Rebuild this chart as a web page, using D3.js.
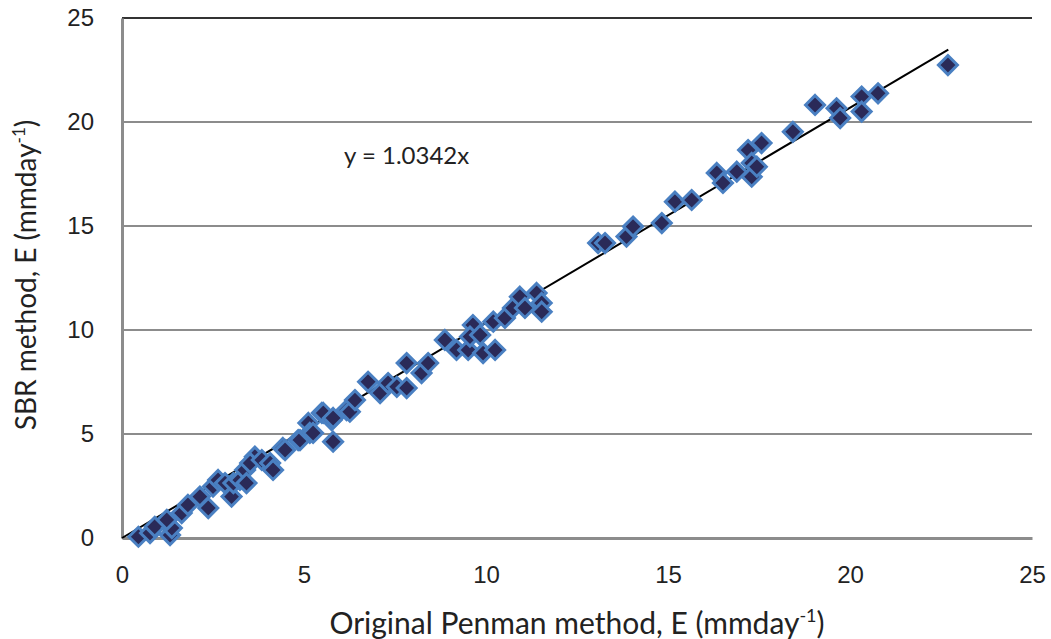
<!DOCTYPE html>
<html>
<head>
<meta charset="utf-8">
<script src="https://cdn.jsdelivr.net/npm/d3@7"></script>
<style>
  body { margin: 0; background: #fff; }
  svg { display: block; font-family: Lato, "Open Sans", sans-serif; }
</style>
</head>
<body>
<div id="chart"></div>
<script>
// Original Penman E (x) vs SBR method E (y), mm/day
const penmanE = [
  0.45, 0.77, 0.9, 1.32, 1.37, 1.23, 1.64, 1.81, 2.14, 2.37, 2.5, 2.64, 2.83, 3.01, 3.06,
  3.24, 3.38, 3.42, 3.65, 3.52, 3.84, 4.07, 4.15, 4.42, 4.48, 4.84, 4.89, 5.12, 5.16, 5.25,
  5.49, 5.53, 5.76, 5.8, 5.8, 6.17, 6.26, 6.4, 6.76, 7.09, 7.31, 7.55, 7.82, 7.82, 8.23,
  8.41, 8.87, 9.19, 9.51, 9.64, 9.56, 9.84, 9.92, 10.25, 10.2, 10.52, 10.74, 10.93, 11.07,
  11.39, 11.53, 11.53, 13.08, 13.27, 13.86, 14.04, 14.83, 15.19, 15.65, 16.34, 16.51, 16.89,
  17.2, 17.3, 17.3, 17.57, 17.44, 18.43, 19.04, 19.63, 19.73, 20.32, 20.32, 20.77, 22.69
];
const sbrE = [
  0.06, 0.24, 0.54, 0.14, 0.48, 0.87, 1.2, 1.59, 1.99, 1.44, 2.47, 2.79, 2.64, 1.99, 2.64,
  2.79, 3.27, 2.64, 3.91, 3.6, 3.75, 3.6, 3.27, 4.33, 4.23, 4.71, 4.71, 5.53, 5.05, 5.05,
  6.01, 6.01, 5.67, 4.63, 5.77, 6.15, 6.07, 6.63, 7.51, 6.97, 7.45, 7.27, 7.21, 8.41, 7.93,
  8.41, 9.52, 9.04, 9.04, 10.24, 9.68, 9.76, 8.89, 9.04, 10.4, 10.58, 11.06, 11.6, 11.06,
  11.78, 11.3, 10.88, 14.18, 14.18, 14.49, 14.97, 15.14, 16.17, 16.25, 17.55, 17.07, 17.61,
  18.65, 18.03, 17.37, 18.99, 17.85, 19.53, 20.82, 20.66, 20.19, 21.22, 20.5, 21.38, 22.74
];
const slope = 1.0342;
const trendEnd = 22.7;
const xTicks = [0, 5, 10, 15, 20, 25];
const yTicks = [0, 5, 10, 15, 20, 25];

const width = 1051, height = 639;
const margin = { top: 18, right: 19, bottom: 101, left: 122 };
const innerW = width - margin.left - margin.right;
const innerH = height - margin.top - margin.bottom;

const svg = d3.select('#chart').append('svg')
  .attr('width', width).attr('height', height);

const g = svg.append('g')
  .attr('transform', `translate(${margin.left},${margin.top})`);

const x = d3.scaleLinear().domain([0, 25]).range([0, innerW]);
const y = d3.scaleLinear().domain([0, 25]).range([innerH, 0]);

// Grid lines
g.append('g')
  .selectAll('line')
  .data(yTicks.filter(d => d > 0))
  .join('line')
  .attr('x1', 0).attr('x2', innerW)
  .attr('y1', d => y(d)).attr('y2', d => y(d))
  .attr('stroke', d => d === 25 ? '#333' : '#8c8c8c')
  .attr('stroke-width', 2);

// Axes
const xAxis = g.append('g')
  .attr('transform', `translate(0,${innerH})`)
  .call(d3.axisBottom(x).tickValues(xTicks).tickSize(0).tickPadding(28));
xAxis.select('.domain').attr('stroke', '#8c8c8c').attr('stroke-width', 3);
xAxis.selectAll('text').style('font-size', '24px').attr('fill', '#222');

const yAxis = g.append('g')
  .call(d3.axisLeft(y).tickValues(yTicks).tickSize(0).tickPadding(28));
yAxis.select('.domain').attr('stroke', '#8c8c8c').attr('stroke-width', 3);
yAxis.selectAll('text').style('font-size', '24px').attr('fill', '#222');

// Trend line
g.append('line')
  .attr('x1', x(0)).attr('y1', y(0))
  .attr('x2', x(trendEnd)).attr('y2', y(slope * trendEnd))
  .attr('stroke', '#000').attr('stroke-width', 2);

// Points
const points = penmanE.map((v, i) => ({ x: v, y: sbrE[i] }));
g.selectAll('.pt')
  .data(points)
  .join('path')
  .attr('class', 'pt')
  .attr('transform', d => `translate(${x(d.x)},${y(d.y)})`)
  .attr('d', 'M0,-9.5L9.5,0L0,9.5L-9.5,0Z')
  .attr('fill', '#2a2a58')
  .attr('stroke', '#4a80c2')
  .attr('stroke-width', 3);

// Equation
g.append('text')
  .attr('x', x(6.1)).attr('y', y(18.0))
  .style('font-size', '24px').attr('fill', '#222')
  .text('y = 1.0342x');

// Axis titles
const xt = svg.append('text')
  .attr('x', 577).attr('y', 634)
  .attr('text-anchor', 'middle')
  .style('font-size', '30px').attr('fill', '#222');
xt.append('tspan').text('Original Penman method, E (mmday');
xt.append('tspan').attr('dy', -12).style('font-size', '18px').text('-1');
xt.append('tspan').attr('dy', 12).text(')');

const yt = svg.append('text')
  .attr('transform', 'translate(36,275) rotate(-90)')
  .attr('text-anchor', 'middle')
  .style('font-size', '28px').attr('fill', '#222');
yt.append('tspan').text('SBR method, E (mmday');
yt.append('tspan').attr('dy', -11).style('font-size', '17px').text('-1');
yt.append('tspan').attr('dy', 11).text(')');
</script>
</body>
</html>
